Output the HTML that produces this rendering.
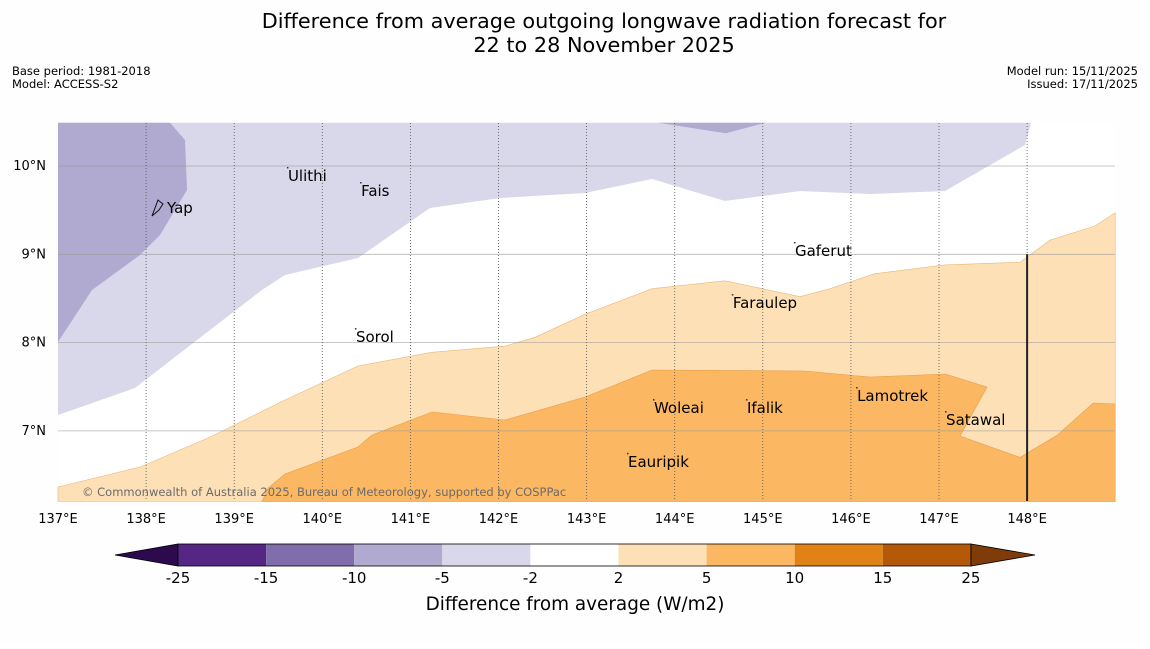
<!DOCTYPE html>
<html><head><meta charset="utf-8"><style>
body{margin:0;background:#fff;font-family:"Liberation Sans","DejaVu Sans",sans-serif}
svg text{font-family:"DejaVu Sans","Liberation Sans",sans-serif}
</style></head><body>
<svg id="c" width="1150" height="644" xmlns="http://www.w3.org/2000/svg">
<rect width="1150" height="644" fill="#fefefe"/>
<text x="604" y="28" font-size="20.8" text-anchor="middle">Difference from average outgoing longwave radiation forecast for</text>
<text x="604" y="52" font-size="20.8" text-anchor="middle">22 to 28 November 2025</text>
<text x="12" y="75" font-size="11.5">Base period: 1981-2018</text>
<text x="12" y="88" font-size="11.5">Model: ACCESS-S2</text>
<text x="1138" y="75" font-size="11.5" text-anchor="end">Model run: 15/11/2025</text>
<text x="1138" y="88" font-size="11.5" text-anchor="end">Issued: 17/11/2025</text>
<g id="map"></g>
<g id="cb"></g>
</svg>
<script>
const NS="http://www.w3.org/2000/svg";
const lonTicks=[137,138,139,140,141,142,143,144,145,146,147,148];
const latTicks=[7,8,9,10];
const whiteEdgeLP=[[137,7.18],[137.874,7.486],[138.725,8.143],[139.316,8.596],[139.577,8.766],[140.405,8.958],[141.222,9.524],[142.017,9.638],[142.982,9.694],[143.742,9.853],[144.571,9.604],[145.422,9.717],[146.217,9.683],[147.068,9.717],[147.976,10.238],[148.044,10.49]];
const darkPurple=[[137,10.49],[138.271,10.49],[138.442,10.294],[138.464,9.728],[138.328,9.502],[138.158,9.219],[137.931,8.992],[137.386,8.596],[137,8.007]];
const topPurple=[[143.81,10.49],[144.58,10.37],[145.03,10.49]];
const lightOrangeEdge=[[137,6.365],[137.93,6.59],[138.725,6.93],[139.577,7.35],[140.405,7.735],[141.245,7.89],[142.074,7.96],[142.414,8.06],[142.982,8.32],[143.742,8.61],[144.571,8.70],[145.422,8.52],[145.763,8.61],[146.274,8.78],[147.068,8.88],[147.92,8.91],[148.26,9.16],[148.77,9.32],[149,9.47]];
const orangeEdge=[[139.316,6.2],[139.384,6.353],[139.577,6.512],[140.405,6.818],[140.564,6.954],[141.245,7.214],[142.074,7.124],[142.982,7.384],[143.322,7.52],[143.742,7.69],[145.479,7.678],[146.217,7.61],[147.068,7.644],[147.545,7.497],[147.238,6.942],[147.92,6.70],[148.34,6.95],[148.75,7.316],[149,7.305]];
const places=[["Yap",138.237,9.524],["Ulithi",139.61,9.887],["Fais",140.44,9.717],["Gaferut",145.365,9.037],["Faraulep",144.66,8.448],["Sorol",140.382,8.063],["Woleai",143.765,7.259],["Ifalik",144.82,7.259],["Lamotrek",146.07,7.395],["Satawal",147.08,7.123],["Eauripik",143.47,6.65]];
const cbLevels=[-25,-15,-10,-5,-2,2,5,10,15,25];
const cbColors=["#562685","#7f6eab","#b0a9d0","#d8d8ea","#ffffff","#fde0b6","#fbb762","#e08215","#b35908"];
const L=58,R=1115,T=123,B=501;
const X=lon=>58+(lon-137)*88.1;
const Y=lat=>166+(10-lat)*88.3;
const map=document.getElementById('map');
function mk(t,a,p){const e=document.createElementNS(NS,t);for(const k in a)e.setAttribute(k,a[k]);(p||map).appendChild(e);return e;}
function pts(a){return a.map(p=>X(p[0]).toFixed(1)+','+Y(p[1]).toFixed(1)).join(' ');}
mk('rect',{x:L,y:T,width:R-L,height:B-T,fill:'#ffffff'});
let e;
e=mk('polygon',{points:pts([[137,10.49]].concat(whiteEdgeLP.slice().reverse())),fill:'#d8d8ea'});


e=mk('polygon',{points:pts(darkPurple),fill:'#b0a9d0'});


e=mk('polygon',{points:pts(topPurple),fill:'#b0a9d0'});


e=mk('polygon',{points:pts(lightOrangeEdge.concat([[149,6.2],[137,6.2]])),fill:'#fde0b6',stroke:'#e9b878','stroke-width':0.6});


e=mk('polygon',{points:pts(orangeEdge.concat([[149,6.2]])),fill:'#fbb762',stroke:'#e89c48','stroke-width':0.6});


latTicks.forEach(v=>{const l=mk('line',{x1:L,x2:R,y1:Y(v),y2:Y(v),stroke:'#999','stroke-width':0.8,'stroke-opacity':0.7});


const t=mk('text',{x:46,y:Y(v)+4,'font-size':13,'text-anchor':'end'});t.textContent=v+'°N';

});
lonTicks.forEach(v=>{if(v>137){const l=mk('line',{x1:X(v),x2:X(v),y1:T,y2:B,stroke:'#555','stroke-width':0.8,'stroke-dasharray':'1,2'});

}
const t=mk('text',{x:X(v),y:523,'font-size':13,'text-anchor':'middle'});t.textContent=v+'°E';

});
e=mk('line',{x1:X(148),x2:X(148),y1:Y(9),y2:B,stroke:'#222','stroke-width':2});


places.forEach(p=>{const x=X(p[1]),y=Y(p[2]);
if(p[0]==='Yap'){mk('path',{d:`M${x-15},${y+8} L${x-9},${y-8} L${x-4},${y-4} L${x-8},${y+2} Z`,fill:'none',stroke:'#111','stroke-width':1});}
else mk('rect',{x:x-1,y:y-9,width:1.5,height:1.5,fill:'#333'});
const t=mk('text',{x:x,y:y+5,'font-size':15});t.textContent=p[0];

});
e=mk('text',{x:82,y:496,'font-size':11.5,fill:'#6b6b6b'});e.textContent='© Commonwealth of Australia 2025, Bureau of Meteorology, supported by COSPPac';


const cb=document.getElementById('cb');
const cx0=178,cw=88.1,cy=544,ch=22;
const CX=i=>cx0+i*cw;
e=mk('polygon',{points:`${CX(0)},${cy} ${CX(0)},${cy+ch} 115,${cy+ch/2}`,fill:'#2d0a4e',stroke:'#000','stroke-width':0.8},cb);


e=mk('polygon',{points:`${CX(9)},${cy} ${CX(9)},${cy+ch} 1035,${cy+ch/2}`,fill:'#7f3b08',stroke:'#000','stroke-width':0.8},cb);


cbColors.forEach((c,i)=>{const r=mk('rect',{x:CX(i),y:cy,width:cw,height:ch,fill:c},cb);

});
mk('rect',{x:CX(0),y:cy,width:cw*9,height:ch,fill:'none',stroke:'#000','stroke-width':0.8},cb);
cbLevels.forEach((v,i)=>{const t=mk('text',{x:CX(i),y:583,'font-size':15,'text-anchor':'middle'},cb);t.textContent=v;

});
e=mk('text',{x:575,y:610,'font-size':18.4,'text-anchor':'middle'},cb);e.textContent='Difference from average (W/m2)';


</script>
</body></html>
